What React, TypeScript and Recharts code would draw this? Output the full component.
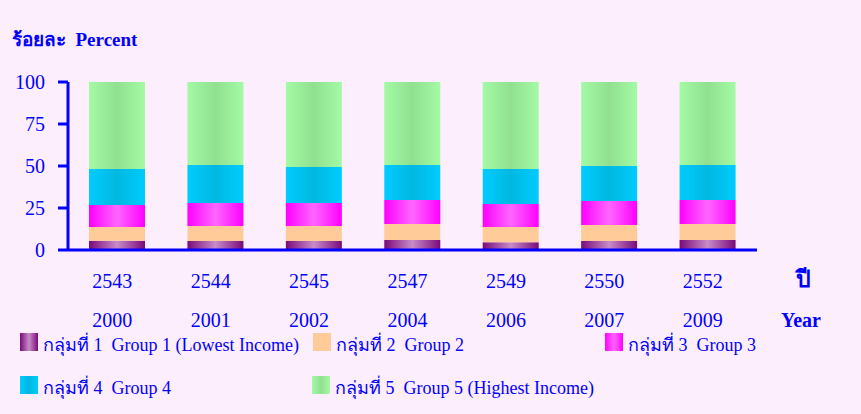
import React from "react";
import { BarChart, Bar, XAxis, YAxis } from "recharts";

const yearsBE = ["2543", "2544", "2545", "2547", "2549", "2550", "2552"];
const yearsAD = ["2000", "2001", "2002", "2004", "2006", "2007", "2009"];
const group1 = [5.5, 5.4, 5.3, 6.0, 4.6, 5.4, 6.0];
const group2 = [8.2, 8.9, 9.0, 9.5, 9.1, 9.5, 9.5];
const group3 = [13.1, 13.7, 13.7, 14.3, 13.7, 14.3, 14.3];
const group4 = [21.4, 22.6, 21.4, 20.8, 20.8, 20.8, 20.8];
const group5 = [51.8, 49.4, 50.6, 49.4, 51.8, 50.0, 49.4];
const yTicks = [0, 25, 50, 75, 100];

const seriesNames = [
  "กลุ่มที่ 1  Group 1 (Lowest Income)",
  "กลุ่มที่ 2  Group 2",
  "กลุ่มที่ 3  Group 3",
  "กลุ่มที่ 4  Group 4",
  "กลุ่มที่ 5  Group 5 (Highest Income)",
];

const data = yearsBE.map((be, i) => ({
  be,
  ad: yearsAD[i],
  g1: group1[i],
  g2: group2[i],
  g3: group3[i],
  g4: group4[i],
  g5: group5[i],
}));

const BLUE = "#0000FF";
const BG = "#FDEEFD";
const FONT = "'Liberation Serif', 'Times New Roman', serif";

const grads = [
  { id: "gp1", edge: "#7A0A7A", mid: "#C88CC8" },
  { id: "gp2", edge: "#FFCC99", mid: "#FFCC99" },
  { id: "gp3", edge: "#FF00FF", mid: "#FF66FF" },
  { id: "gp4", edge: "#00CCFF", mid: "#00B8E0" },
  { id: "gp5", edge: "#A4FAA4", mid: "#90E090" },
];

const XTick = (props: any) => {
  const { x, y, payload, index } = props;
  const ad = yearsAD[index] ?? "";
  return (
    <g>
      <text x={x - 5} y={y + 36} textAnchor="middle" fill={BLUE} fontSize={20} fontFamily={FONT}>
        {payload.value}
      </text>
      <text x={x - 5} y={y + 75} textAnchor="middle" fill={BLUE} fontSize={20} fontFamily={FONT}>
        {ad}
      </text>
    </g>
  );
};

const legendPos = [
  { left: 20, top: 333 },
  { left: 313, top: 333 },
  { left: 605, top: 333 },
  { left: 20, top: 376 },
  { left: 312, top: 376 },
];

export default function App() {
  return (
    <div
      style={{
        position: "absolute",
        left: 0,
        top: 0,
        width: 861,
        height: 414,
        background: BG,
        overflow: "hidden",
        fontFamily: FONT,
      }}
    >
      <svg width={0} height={0} style={{ position: "absolute" }}>
        <defs>
          {grads.map((g) => (
            <linearGradient key={g.id} id={g.id} x1="0" y1="0" x2="1" y2="0">
              <stop offset="0%" stopColor={g.edge} />
              <stop offset="50%" stopColor={g.mid} />
              <stop offset="100%" stopColor={g.edge} />
            </linearGradient>
          ))}
        </defs>
      </svg>
      <div
        style={{
          position: "absolute",
          left: 12,
          top: 29,
          color: BLUE,
          fontWeight: "bold",
          fontSize: 19,
          whiteSpace: "pre",
          lineHeight: "22px",
        }}
      >
        {"ร้อยละ  Percent"}
      </div>
      <div
        style={{
          position: "absolute",
          left: 796,
          top: 266,
          color: BLUE,
          fontWeight: "bold",
          fontSize: 23,
          lineHeight: "28px",
        }}
      >
        ปี
      </div>
      <div
        style={{
          position: "absolute",
          left: 781,
          top: 309,
          color: BLUE,
          fontWeight: "bold",
          fontSize: 20,
          lineHeight: "22px",
        }}
      >
        Year
      </div>
      <div style={{ position: "absolute", left: 0, top: 0 }}>
        <BarChart
          width={861}
          height={414}
          data={data}
          margin={{ top: 82, right: 104, bottom: 64, left: 0 }}
        >
          <XAxis
            dataKey="be"
            axisLine={{ stroke: BLUE, strokeWidth: 3 }}
            tickLine={false}
            tickSize={0}
            height={100}
            interval={0}
            tick={<XTick />}
          />
          <YAxis
            domain={[0, 100]}
            ticks={yTicks}
            width={68}
            axisLine={{ stroke: BLUE, strokeWidth: 3 }}
            tickLine={{ stroke: BLUE, strokeWidth: 3 }}
            tickSize={10}
            tickMargin={13}
            tick={{ fill: BLUE, fontSize: 20, fontFamily: FONT }}
          />
          <Bar dataKey="g1" stackId="a" fill="url(#gp1)" barSize={56} isAnimationActive={false} />
          <Bar dataKey="g2" stackId="a" fill="url(#gp2)" barSize={56} isAnimationActive={false} />
          <Bar dataKey="g3" stackId="a" fill="url(#gp3)" barSize={56} isAnimationActive={false} />
          <Bar dataKey="g4" stackId="a" fill="url(#gp4)" barSize={56} isAnimationActive={false} />
          <Bar dataKey="g5" stackId="a" fill="url(#gp5)" barSize={56} isAnimationActive={false} />
        </BarChart>
      </div>
      {seriesNames.map((name, i) => {
        const g = grads[i];
        return (
          <div
            key={name}
            style={{
              position: "absolute",
              left: legendPos[i].left,
              top: legendPos[i].top,
              display: "flex",
              alignItems: "flex-start",
              whiteSpace: "pre",
            }}
          >
            <div
              style={{
                width: 18,
                height: 18,
                background: `linear-gradient(to right, ${g.edge}, ${g.mid}, ${g.edge})`,
              }}
            />
            <span
              style={{
                marginLeft: 5,
                marginTop: 3,
                color: BLUE,
                fontSize: 18,
                lineHeight: "18px",
              }}
            >
              {name}
            </span>
          </div>
        );
      })}
    </div>
  );
}
